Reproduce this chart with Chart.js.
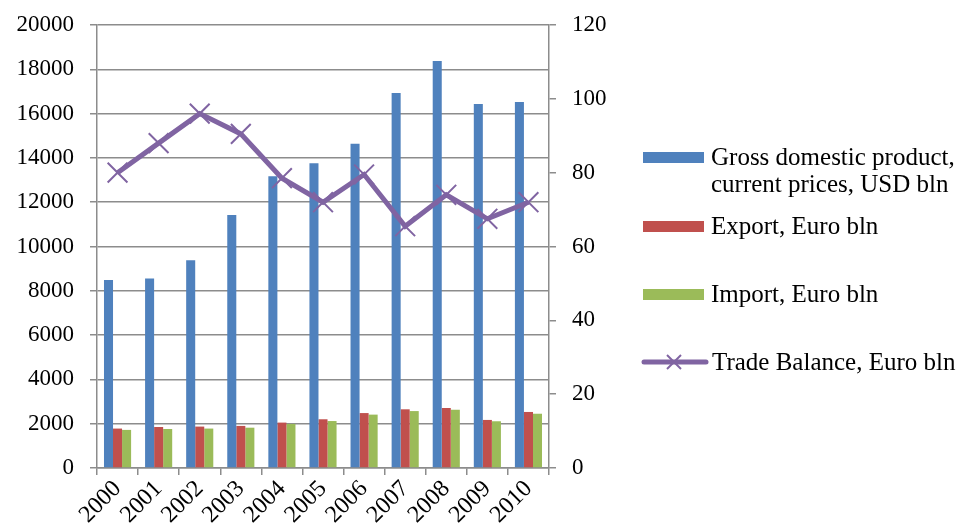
<!DOCTYPE html>
<html lang="en">
<head>
  <meta charset="UTF-8">
  <title>GDP and Trade Balance 2000-2010</title>
  <script src="https://cdn.jsdelivr.net/npm/chart.js"></script>
  <style>
    body {
      margin: 0;
      background-color: white;
    }
    #wrap {
      position: relative;
      width: 957px;
      height: 529px;
    }
    #legend {
      position: absolute;
      left: 0;
      top: 0;
      font-family: "Liberation Serif", "Times New Roman", serif;
      font-size: 25px;
      color: black;
    }
    .item {
      position: absolute;
      left: 641px;
      display: flex;
      align-items: flex-start;
      white-space: nowrap;
    }
    .swatch {
      width: 61px;
      height: 11px;
      margin-left: 2px;
      margin-right: 7px;
    }
    .item svg {
      margin-right: 3px;
    }
    .label {
      line-height: 27px;
    }
  </style>
</head>
<body>
  <div id="wrap">
    <canvas id="chart" width="957" height="529"></canvas>
    <div id="legend"></div>
  </div>
  <script>
    const years = ['2000', '2001', '2002', '2003', '2004', '2005', '2006', '2007', '2008', '2009', '2010'];
    const gdp = [8490, 8560, 9380, 11420, 13170, 13760, 14640, 16930, 18380, 16430, 16520];
    const exports = [1780, 1850, 1870, 1900, 2050, 2200, 2480, 2650, 2710, 2170, 2530];
    const imports = [1720, 1760, 1780, 1820, 1990, 2120, 2410, 2570, 2630, 2110, 2450];
    const tradeBalance = [80, 88, 96, 90.5, 78.5, 72, 79.5, 65.5, 74, 67.5, 72];

    const names = [
      ['Gross domestic product,', 'current prices, USD bln'],
      ['Export, Euro bln'],
      ['Import, Euro bln'],
      ['Trade Balance, Euro bln']
    ];
    const colors = ['#4F81BD', '#C0504D', '#9BBB59', '#8064A2'];

    // legend rows (top of each row, px)
    const legendTops = [143, 212, 280, 348];

    const gridColor = '#8c8c8c';
    const serif = "'Liberation Serif', 'Times New Roman', serif";

    Chart.defaults.font.family = serif;
    Chart.defaults.font.size = 23;
    Chart.defaults.color = '#000';

    const plain = v => String(v);

    // fixed axis sizes so the plot area sits where the original one does
    function fitY(width) {
      return scale => {
        scale.width = width;
        scale.paddingTop = 12;
        scale.paddingBottom = 12;
      };
    }

    const ctx = document.getElementById('chart').getContext('2d');
    const chart = new Chart(ctx, {
      type: 'bar',
      data: {
        labels: years,
        datasets: [
          { type: 'line', label: names[3].join(' '), data: tradeBalance, yAxisID: 'y1', order: 0,
            borderColor: colors[3], borderWidth: 5, tension: 0,
            pointStyle: 'crossRot', pointRadius: 14, pointBorderWidth: 2,
            pointBorderColor: colors[3], pointBackgroundColor: colors[3] },
          { label: names[0].join(' '), data: gdp, backgroundColor: colors[0], yAxisID: 'y', order: 1 },
          { label: names[1].join(' '), data: exports, backgroundColor: colors[1], yAxisID: 'y', order: 1 },
          { label: names[2].join(' '), data: imports, backgroundColor: colors[2], yAxisID: 'y', order: 1 }
        ]
      },
      options: {
        responsive: false,
        animation: false,
        datasets: {
          bar: { categoryPercentage: 0.66, barPercentage: 1.0 }
        },
        layout: { padding: { left: 0, right: 348, top: 25, bottom: 0 } },
        plugins: {
          legend: { display: false },
          tooltip: { enabled: false }
        },
        scales: {
          x: {
            offset: true,
            grid: { offset: true, drawOnChartArea: false, tickLength: 7, color: gridColor, lineWidth: 1.5 },
            border: { color: gridColor, width: 1.5 },
            ticks: { minRotation: 45, maxRotation: 45, autoSkip: false, padding: 0, font: { size: 24 } },
            afterFit: scale => { scale.height = 61; }
          },
          y: {
            position: 'left',
            min: 0,
            max: 20000,
            ticks: { stepSize: 2000, padding: 16, callback: plain },
            grid: { color: gridColor, lineWidth: 1.5, tickLength: 7 },
            border: { color: gridColor, width: 1.5 },
            afterFit: fitY(97)
          },
          y1: {
            position: 'right',
            min: 0,
            max: 120,
            ticks: { stepSize: 20, padding: 16, callback: plain },
            grid: { drawOnChartArea: false, color: gridColor, lineWidth: 1.5, tickLength: 7 },
            border: { color: gridColor, width: 1.5 },
            afterFit: fitY(60)
          }
        }
      }
    });

    // html legend built from the chart's datasets
    const legend = document.getElementById('legend');
    const order = [1, 2, 3, 0];
    order.forEach((dsIndex, i) => {
      const ds = chart.data.datasets[dsIndex];
      const item = document.createElement('div');
      item.className = 'item';
      item.style.top = legendTops[i] + 'px';
      if (ds.type === 'line') {
        const c = ds.borderColor;
        item.innerHTML =
          '<svg width="68" height="27" viewBox="0 0 68 27">' +
          '<line x1="3" y1="14" x2="65" y2="14" stroke="' + c + '" stroke-width="5" stroke-linecap="round"/>' +
          '<line x1="26" y1="7" x2="40" y2="21" stroke="' + c + '" stroke-width="2"/>' +
          '<line x1="26" y1="21" x2="40" y2="7" stroke="' + c + '" stroke-width="2"/>' +
          '</svg>';
      } else {
        const sw = document.createElement('div');
        sw.className = 'swatch';
        sw.style.backgroundColor = ds.backgroundColor;
        sw.style.marginTop = '9px';
        item.appendChild(sw);
      }
      const lbl = document.createElement('div');
      lbl.className = 'label';
      lbl.innerHTML = names[i].join('<br>');
      item.appendChild(lbl);
      legend.appendChild(item);
    });
  </script>
</body>
</html>
